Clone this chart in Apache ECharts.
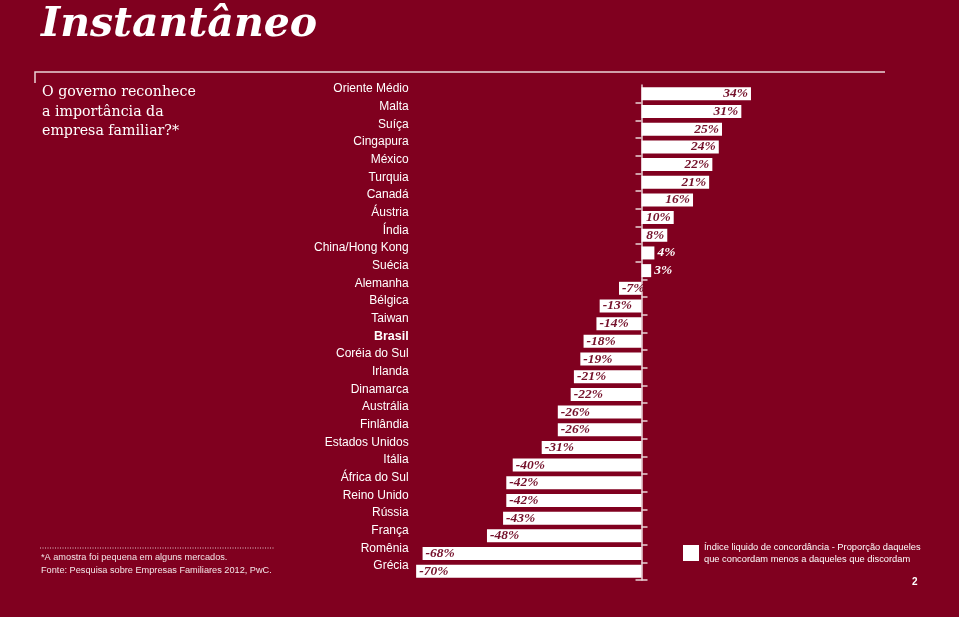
<!DOCTYPE html>
<html>
<head>
<meta charset="utf-8">
<script src="https://cdn.jsdelivr.net/npm/echarts@6/dist/echarts.min.js"></script>
<style>
html,body{margin:0;padding:0;background:#80001f;}
#chart{width:959px;height:617px;}
</style>
</head>
<body>
<div id="chart"></div>
<script>
const categories = ['Oriente Médio','Malta','Suíça','Cingapura','México','Turquia','Canadá','Áustria','Índia','China/Hong Kong','Suécia','Alemanha','Bélgica','Taiwan','Brasil','Coréia do Sul','Irlanda','Dinamarca','Austrália','Finlândia','Estados Unidos','Itália','África do Sul','Reino Unido','Rússia','França','Romênia','Grécia'];
const values = [34,31,25,24,22,21,16,10,8,4,3,-7,-13,-14,-18,-19,-21,-22,-26,-26,-31,-40,-42,-42,-43,-48,-68,-70];
const highlighted = ['Brasil'];
const seriesName = 'Índice liquido de concordância - Proporção daqueles\nque concordam menos a daqueles que discordam';
const titleText = 'Instantâneo';
const questionText = 'O governo reconhece\na importância da\nempresa familiar?*';
const noteText = '*A amostra foi pequena em alguns mercados.\nFonte: Pesquisa sobre Empresas Familiares 2012, PwC.';
const pageNumber = '2';

const BG = '#80001f';
const LINE = '#ead3d8';
const LABEL_DARK = '#74102a';
const valueLabelFont = {fontFamily: 'Liberation Serif', fontStyle: 'italic', fontWeight: 'bold', fontSize: 13.5};

const firstNegative = values.findIndex(v => v < 0);

const barData = values.map(v => {
  const small = v >= 0 && v < 6;
  return {
    value: v,
    label: {
      show: true,
      position: v >= 0 ? (small ? 'right' : 'insideRight') : 'insideLeft',
      distance: 3,
      color: small ? '#ffffff' : LABEL_DARK,
      formatter: '{c}%',
      ...valueLabelFont
    }
  };
});

const chart = echarts.init(document.getElementById('chart'), null, {renderer: 'canvas'});
chart.setOption({
  backgroundColor: BG,
  animation: false,
  title: [
    {text: titleText, left: 41, top: 5, padding: 0,
     textStyle: {color: '#ffffff', fontFamily: 'DejaVu Serif', fontStyle: 'italic', fontWeight: 'bold', fontSize: 41}},
    {text: questionText, left: 42, top: 83, padding: 0,
     textStyle: {color: '#ffffff', fontFamily: 'DejaVu Serif', fontWeight: 'normal', fontSize: 14.2, lineHeight: 19.5}},
    {text: noteText, left: 41, top: 551, padding: 0,
     textStyle: {color: '#f3e6e9', fontFamily: 'Liberation Sans', fontWeight: 'normal', fontSize: 9.2, lineHeight: 13}},
    {text: pageNumber, left: 912, top: 577, padding: 0,
     textStyle: {color: '#ffffff', fontFamily: 'Liberation Sans', fontWeight: 'bold', fontSize: 10}}
  ],
  legend: {
    left: 683, top: 541, padding: 0,
    icon: 'rect', itemWidth: 16, itemHeight: 16, itemGap: 6,
    data: [seriesName],
    textStyle: {color: '#ffffff', fontFamily: 'Liberation Sans', fontSize: 9.3, lineHeight: 12}
  },
  grid: {left: 409.7, right: 188.7, top: 85, bottom: 37, containLabel: false},
  xAxis: [{
    type: 'value', min: -72, max: 40, show: false
  }],
  yAxis: [
    {
      type: 'category', data: categories, inverse: true, position: 'left',
      axisLine: {show: true, onZero: true, onZeroAxisIndex: 0, lineStyle: {color: LINE, width: 1.5}},
      axisTick: {show: true, inside: false, length: 6, lineStyle: {color: LINE, width: 1.5},
                 interval: (i) => i >= 1 && i < firstNegative},
      axisLabel: {show: false},
      splitLine: {show: false}
    },
    {
      type: 'category', data: categories, inverse: true, position: 'right',
      axisLine: {show: false, onZero: true, onZeroAxisIndex: 0},
      axisTick: {show: true, inside: false, length: 6, lineStyle: {color: LINE, width: 1.5},
                 interval: (i) => i >= firstNegative},
      axisLabel: {show: false},
      splitLine: {show: false}
    },
    {
      type: 'category', data: categories, inverse: true, position: 'left',
      axisLine: {show: false, onZero: false},
      axisTick: {show: false},
      axisLabel: {
        show: true, margin: 1, color: '#ffffff', fontFamily: 'Liberation Sans', fontSize: 12,
        padding: [0, 0, 10, 0],
        formatter: (v) => highlighted.includes(v) ? '{b|' + v + '}' : v,
        rich: {b: {fontWeight: 'bold', color: '#ffffff', fontFamily: 'Liberation Sans', fontSize: 12.5}}
      },
      splitLine: {show: false}
    }
  ],
  series: [{
    name: seriesName,
    type: 'bar',
    yAxisIndex: 0,
    barWidth: 13,
    itemStyle: {color: '#ffffff'},
    data: barData
  }],
  graphic: [
    {type: 'polyline', shape: {points: [[35, 83], [35, 72], [885, 72]]},
     style: {stroke: LINE, lineWidth: 1.5, fill: null}, silent: true},
    {type: 'line', shape: {x1: 40, y1: 548, x2: 275, y2: 548},
     style: {stroke: '#e2c4cb', lineWidth: 1, lineDash: [1, 1.5]}, silent: true}
  ]
});
</script>
</body>
</html>
